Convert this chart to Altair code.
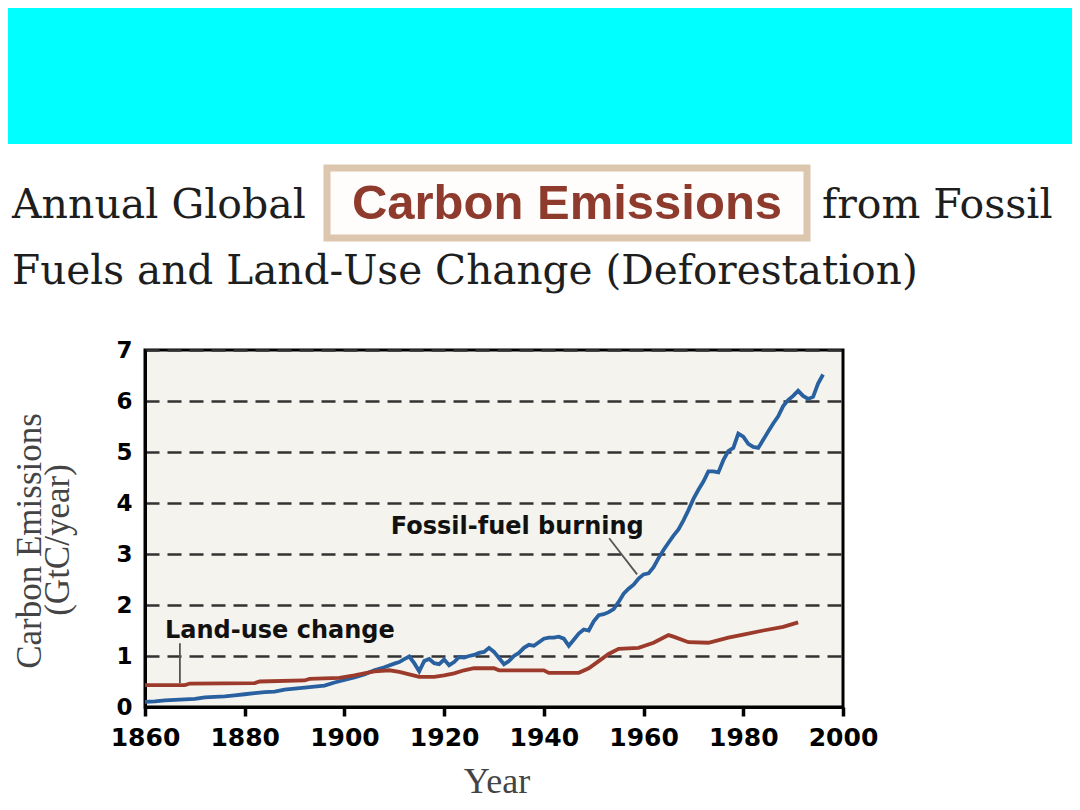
import altair as alt
import pandas as pd

# ---------------- data ----------------
fossil_years = [1860, 1862, 1864, 1866, 1868, 1870, 1872, 1874, 1876, 1878, 1880, 1882, 1884, 1886, 1888,
                1890, 1892, 1894, 1896, 1898, 1900, 1902, 1904, 1906, 1908, 1910, 1911, 1912, 1913, 1914,
                1915, 1916, 1917, 1918, 1919, 1920, 1921, 1922, 1923, 1924, 1925, 1926, 1927, 1928, 1929,
                1930, 1931, 1932, 1933, 1934, 1935, 1936, 1937, 1938, 1939, 1940, 1941, 1942, 1943, 1944,
                1945, 1946, 1947, 1948, 1949, 1950, 1951, 1952, 1953, 1954, 1955, 1956, 1957, 1958, 1959,
                1960, 1961, 1962, 1963, 1964, 1965, 1966, 1967, 1968, 1969, 1970, 1971, 1972, 1973, 1974,
                1975, 1976, 1977, 1978, 1979, 1980, 1981, 1982, 1983, 1984, 1985, 1986, 1987, 1988, 1989,
                1990, 1991, 1992, 1993, 1994, 1995, 1996]
fossil_values = [0.10, 0.11, 0.13, 0.14, 0.15, 0.16, 0.19, 0.20, 0.21, 0.23, 0.25, 0.27, 0.29, 0.30, 0.34,
                 0.36, 0.38, 0.40, 0.42, 0.48, 0.53, 0.58, 0.64, 0.72, 0.78, 0.85, 0.88, 0.94, 0.99, 0.86,
                 0.70, 0.90, 0.94, 0.86, 0.84, 0.93, 0.82, 0.88, 0.98, 0.97, 1.00, 1.02, 1.06, 1.08, 1.16,
                 1.08, 0.96, 0.84, 0.90, 1.00, 1.06, 1.16, 1.22, 1.20, 1.27, 1.34, 1.36, 1.36, 1.38, 1.34,
                 1.20, 1.32, 1.44, 1.52, 1.50, 1.68, 1.80, 1.82, 1.86, 1.92, 2.06, 2.22, 2.32, 2.40, 2.52,
                 2.60, 2.62, 2.74, 2.92, 3.08, 3.22, 3.36, 3.48, 3.66, 3.86, 4.08, 4.26, 4.42, 4.62, 4.62,
                 4.60, 4.84, 5.02, 5.08, 5.36, 5.30, 5.16, 5.10, 5.08, 5.24, 5.40, 5.56, 5.70, 5.90, 6.02,
                 6.10, 6.20, 6.10, 6.04, 6.08, 6.34, 6.52]

land_years = [1860, 1868, 1869, 1882, 1883, 1892, 1893, 1899, 1902, 1904, 1906, 1909, 1911, 1913, 1915,
              1918, 1920, 1922, 1924, 1926, 1930, 1931, 1940, 1941, 1947, 1949, 1951, 1953, 1955, 1959,
              1962, 1965, 1966, 1969, 1973, 1977, 1980, 1984, 1988, 1991]
land_values = [0.43, 0.43, 0.46, 0.47, 0.50, 0.52, 0.55, 0.57, 0.62, 0.66, 0.70, 0.72, 0.69, 0.64, 0.59,
               0.59, 0.62, 0.66, 0.72, 0.76, 0.76, 0.72, 0.72, 0.67, 0.67, 0.76, 0.90, 1.04, 1.14, 1.16,
               1.26, 1.41, 1.38, 1.27, 1.26, 1.36, 1.42, 1.50, 1.57, 1.66]

series_names = ["Fossil-fuel burning", "Land-use change"]
series_colors = ["#2860a0", "#9c3b2b"]
x_ticks = [1860, 1880, 1900, 1920, 1940, 1960, 1980, 2000]
y_ticks = [0, 1, 2, 3, 4, 5, 6, 7]

# annotation anchors (data coordinates)
ann_labels = ["Fossil-fuel burning", "Land-use change"]
ann_x = [1909.3, 1864.0]
ann_y = [3.53, 1.49]
leader_x = [1953.1, 1867.0]
leader_x2 = [1958.7, 1867.0]
leader_y = [3.31, 1.25]
leader_y2 = [2.60, 0.47]

# ---------------- tables ----------------
df = pd.concat([
    pd.DataFrame({"Year": fossil_years, "Value": fossil_values, "Series": series_names[0]}),
    pd.DataFrame({"Year": land_years, "Value": land_values, "Series": series_names[1]}),
])
ann_df = pd.DataFrame({"label": ann_labels, "x": ann_x, "y": ann_y})
lead_df = pd.DataFrame({"x": leader_x, "x2": leader_x2, "y": leader_y, "y2": leader_y2})

W, H = 698, 357
xscale = alt.Scale(domain=[1860, 2000], nice=False, zero=False)
yscale = alt.Scale(domain=[0, 7], nice=False)

base = alt.Chart(df)

lines = base.mark_line(strokeWidth=3.8, interpolate="linear").encode(
    x=alt.X("Year:Q", scale=xscale,
            axis=alt.Axis(values=x_ticks, format="d", title=None, grid=False,
                          tickSize=9, tickWidth=3.5, tickColor="black",
                          domainColor="black", domainWidth=3,
                          labelFont="DejaVu Sans", labelFontWeight="bold", labelFontSize=25,
                          labelColor="black", labelPadding=9, labelOverlap=False, labelFlush=False)),
    y=alt.Y("Value:Q", scale=yscale,
            axis=alt.Axis(values=y_ticks, title=None, grid=True, gridDash=[14, 8],
                          gridColor="#333333", gridWidth=2.5, ticks=False,
                          domainColor="black", domainWidth=3,
                          labelFont="DejaVu Sans", labelFontWeight="bold", labelFontSize=23,
                          labelColor="black", labelPadding=13, labelOverlap=False, labelFlush=False)),
    color=alt.Color("Series:N", scale=alt.Scale(domain=series_names, range=series_colors), legend=None),
)

ann_text = alt.Chart(ann_df).mark_text(align="left", baseline="middle", font="DejaVu Sans",
                                       fontWeight="bold", fontSize=24, color="#111").encode(
    x=alt.X("x:Q", scale=xscale), y=alt.Y("y:Q", scale=yscale), text="label:N")

leaders = alt.Chart(lead_df).mark_rule(color="#555", strokeWidth=1.8).encode(
    x=alt.X("x:Q", scale=xscale), x2="x2:Q", y=alt.Y("y:Q", scale=yscale), y2="y2:Q")

# ---------------- decoration (page furniture) ----------------
deco = alt.Chart(pd.DataFrame({"k": [0]}))
cyan = deco.mark_rect(color="#00ffff").encode(
    x=alt.value(-145), x2=alt.value(935), y=alt.value(-360), y2=alt.value(-206))
box = deco.mark_rect(fill="#fefdfb", stroke="#dcc6ae", strokeWidth=7).encode(
    x=alt.value(182), x2=alt.value(662), y=alt.value(-182), y2=alt.value(-112))
t_carbon = deco.mark_text(text="Carbon Emissions", font="Liberation Sans", fontWeight="bold",
                          fontSize=49, color="#8e3a2c", align="center", baseline="alphabetic").encode(
    x=alt.value(422), y=alt.value(-131))
t_l1a = deco.mark_text(text="Annual Global", font="DejaVu Serif", fontSize=41, color="#1e1e1e",
                       align="left", baseline="alphabetic").encode(x=alt.value(-133), y=alt.value(-132))
t_l1b = deco.mark_text(text="from Fossil", font="DejaVu Serif", fontSize=41, color="#1e1e1e",
                       align="left", baseline="alphabetic").encode(x=alt.value(677), y=alt.value(-132))
t_l2 = deco.mark_text(text="Fuels and Land-Use Change (Deforestation)", font="DejaVu Serif",
                      fontSize=40.6, color="#1e1e1e", align="left", baseline="alphabetic").encode(
    x=alt.value(-133), y=alt.value(-66))
t_yt1 = deco.mark_text(text="Carbon Emissions", font="Liberation Serif", fontSize=35, color="#444",
                       angle=270, align="center", baseline="middle").encode(
    x=alt.value(-115), y=alt.value(191))
t_yt2 = deco.mark_text(text="(GtC/year)", font="Liberation Serif", fontSize=35, color="#444",
                       angle=270, align="center", baseline="middle").encode(
    x=alt.value(-87), y=alt.value(190))
t_xt = deco.mark_text(text="Year", font="Liberation Serif", fontSize=36, color="#444",
                      align="center", baseline="alphabetic").encode(x=alt.value(352), y=alt.value(443))

chart = alt.layer(
    cyan, box, t_carbon, t_l1a, t_l1b, t_l2, t_yt1, t_yt2, t_xt,
    lines, leaders, ann_text,
).properties(
    width=W, height=H,
    padding={"left": 137, "top": 342, "right": 229, "bottom": 94},
    autosize=alt.AutoSizeParams(type="none"),
    background="white",
).configure_view(
    fill="#f4f3ee", stroke="black", strokeWidth=3,
)

chart.save("out.html", embed_options={"renderer": "svg", "actions": False})
